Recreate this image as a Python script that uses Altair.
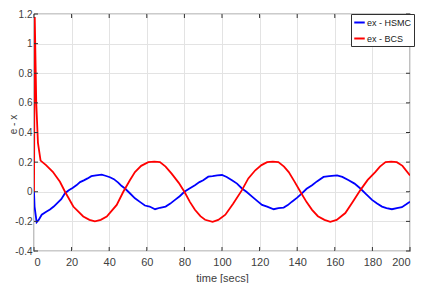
import altair as alt
import pandas as pd

# ---- data ----
bcs_t = [0, 0.4, 1.2, 2.1, 3.5, 6.4, 10, 13.8, 16.5, 20.9, 26.2, 29.5, 32.4, 35.5, 38.7, 44, 47.5, 51,
         53.7, 57, 60.8, 64, 67, 70, 73.2, 77, 80, 83, 85.6, 88.5, 91, 95, 98, 101.8, 106, 110.6, 114,
         117.7, 121, 124, 127, 130, 133, 135.5, 138.5, 141.7, 145, 147.9, 151, 154.5, 157.6, 161, 165.6,
         169.5, 173.6, 177.5, 181.5, 184, 187, 190, 193, 196, 200]
bcs_v = [0, 1.18, 0.6, 0.33, 0.21, 0.18, 0.135, 0.067, 0, -0.1, -0.167, -0.19, -0.2, -0.19, -0.167, -0.089,
         0, 0.078, 0.133, 0.175, 0.2, 0.203, 0.2, 0.17, 0.122, 0.06, 0, -0.07, -0.122, -0.165, -0.189, -0.203,
         -0.19, -0.155, -0.08, 0.011, 0.09, 0.145, 0.18, 0.2, 0.203, 0.2, 0.17, 0.133, 0.07, 0, -0.07, -0.122,
         -0.165, -0.19, -0.203, -0.19, -0.144, -0.07, 0.011, 0.08, 0.133, 0.17, 0.2, 0.203, 0.2, 0.175, 0.11]

hsmc_t = [0, 0.3, 1.4, 2.5, 4.1, 6.5, 8.5, 10.5, 12.5, 14.5, 16.5, 18.5, 20.5, 22.7, 24.5, 26.5, 28.5, 30.5,
          33, 36, 38, 40.4, 42.5, 44.8, 46.5, 48.4, 51, 53.7, 56.5, 59, 61.5, 64.4, 67, 70, 72.5, 75, 77.5,
          80, 82.5, 85.6, 88, 90, 92.7, 95, 97.5, 100, 102.5, 105.3, 108, 110.6, 113, 116, 119, 121.3, 124,
          127.5, 130, 132.8, 135, 137.2, 140, 142.5, 145, 147.9, 150.5, 154, 157, 161.2, 164, 167.4, 170.5,
          173.6, 176.5, 179.8, 182.5, 185.1, 187.5, 190.4, 193, 195.7, 198, 200]
hsmc_v = [0, -0.1, -0.205, -0.19, -0.155, -0.135, -0.12, -0.1, -0.075, -0.05, -0.01, 0.01, 0.025, 0.045,
          0.065, 0.077, 0.09, 0.105, 0.11, 0.115, 0.108, 0.098, 0.085, 0.062, 0.04, 0.022, -0.01, -0.044,
          -0.07, -0.093, -0.1, -0.118, -0.108, -0.1, -0.08, -0.055, -0.03, 0, 0.02, 0.044, 0.065, 0.078,
          0.102, 0.105, 0.11, 0.113, 0.1, 0.078, 0.055, 0.022, 0.0, -0.033, -0.065, -0.089, -0.1, -0.118,
          -0.11, -0.107, -0.09, -0.067, -0.04, -0.011, 0.02, 0.044, 0.07, 0.1, 0.105, 0.111, 0.1, 0.078,
          0.055, 0.022, -0.015, -0.055, -0.08, -0.1, -0.11, -0.118, -0.11, -0.104, -0.085, -0.067]

series_names = ["ex - HSMC", "ex - BCS"]
series_colors = ["#0000ff", "#ff0000"]
x_ticks = [0, 20, 40, 60, 80, 100, 120, 140, 160, 180, 200]
y_ticks = [-0.4, -0.2, 0, 0.2, 0.4, 0.6, 0.8, 1, 1.2]

df = pd.concat([
    pd.DataFrame({"t": hsmc_t, "v": hsmc_v, "s": series_names[0], "o": range(len(hsmc_t))}),
    pd.DataFrame({"t": bcs_t, "v": bcs_v, "s": series_names[1], "o": range(len(bcs_t))}),
])
xt = pd.DataFrame({"t": x_ticks})
yt = pd.DataFrame({"v": y_ticks})

FONT = "Liberation Sans, Arial"
W, H = 376, 237
xs = alt.Scale(domain=[0, 200], nice=False)
ys = alt.Scale(domain=[-0.4, 1.2], nice=False)

x_axis = alt.Axis(
    values=x_ticks, title="time [secs]", grid=True, gridColor="#e3e3e3", ticks=False, domain=False,
    labelFont=FONT, labelFontSize=11, labelColor="#404040", labelPadding=5,
    titleFont=FONT, titleFontSize=11, titleFontWeight="normal", titleColor="#404040",
    titleY=27, titleBaseline="middle")
y_axis = alt.Axis(
    values=y_ticks, title="e - x", grid=True, gridColor="#e3e3e3", ticks=False, domain=False,
    labelExpr="'' + datum.value",
    labelFont=FONT, labelFontSize=10, labelColor="#404040", labelPadding=2, labelBaseline="middle",
    titleFont=FONT, titleFontSize=10, titleFontWeight="normal", titleColor="#404040",
    titleX=-21, titleY=110, titleBaseline="middle", titleAlign="center")

lines = alt.Chart(df).mark_line(strokeWidth=1.8, clip=True).encode(
    x=alt.X("t:Q", scale=xs, axis=x_axis),
    y=alt.Y("v:Q", scale=ys, axis=y_axis),
    color=alt.Color("s:N", scale=alt.Scale(domain=series_names, range=series_colors),
                    sort=series_names,
                    legend=alt.Legend(title=None, orient="none", legendX=317, legendY=0,
                                      fillColor="white", strokeColor="#303030", padding=2,
                                      symbolType="stroke", symbolSize=110, symbolStrokeWidth=2,
                                      labelFont=FONT, labelFontSize=9, labelColor="#202020",
                                      labelOffset=1, rowPadding=4, symbolOffset=0)),
    detail="s:N",
    order="o:Q",
)

tick_col = "#303030"
left_ticks = alt.Chart(yt).mark_rule(color=tick_col).encode(
    y=alt.Y("v:Q", scale=ys, axis=y_axis), x=alt.value(0), x2=alt.value(4))
right_ticks = alt.Chart(yt).mark_rule(color=tick_col).encode(
    y=alt.Y("v:Q", scale=ys, axis=y_axis), x=alt.value(W - 4), x2=alt.value(W))
top_ticks = alt.Chart(xt).mark_rule(color=tick_col).encode(
    x=alt.X("t:Q", scale=xs, axis=x_axis), y=alt.value(0), y2=alt.value(4))
bottom_ticks = alt.Chart(xt).mark_rule(color=tick_col).encode(
    x=alt.X("t:Q", scale=xs, axis=x_axis), y=alt.value(H - 4), y2=alt.value(H))

chart = alt.layer(lines, left_ticks, right_ticks, top_ticks, bottom_ticks).properties(
    width=W, height=H,
    padding={"left": 26, "top": 6, "right": 6, "bottom": 32},
    autosize=alt.AutoSizeParams(type="none"),
).configure_view(stroke="#303030", strokeWidth=1.2)

chart.save("out.html", embed_options={"renderer": "svg", "actions": False})
